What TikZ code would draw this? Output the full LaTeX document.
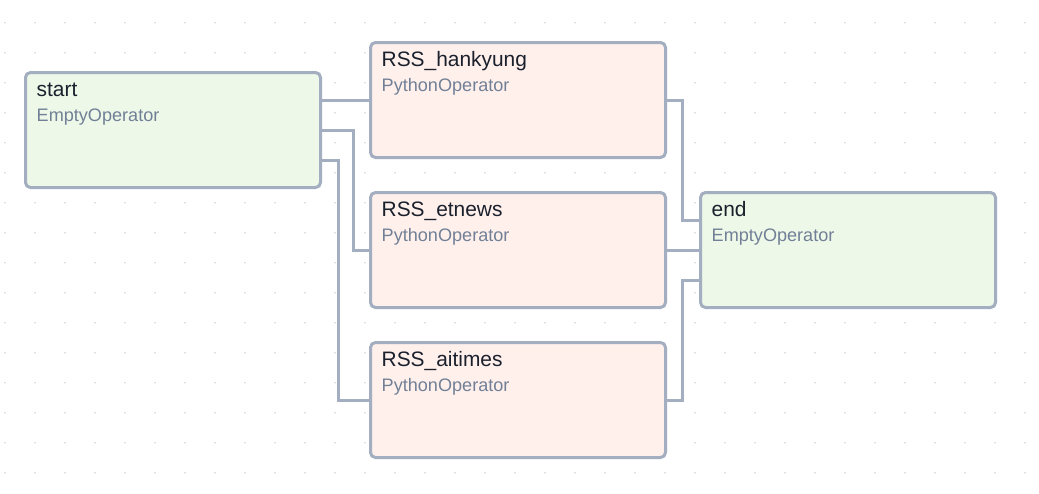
\documentclass[tikz,border=0pt]{standalone}
\usepackage{fontspec}
\setmainfont{Liberation Sans}
\definecolor{edgec}{HTML}{A3AEC0}
\definecolor{dotc}{HTML}{CDD3DC}
\definecolor{emptyfill}{HTML}{EDF8E9}
\definecolor{pyfill}{HTML}{FFF0EC}
\definecolor{titlec}{HTML}{1A202C}
\definecolor{subc}{HTML}{718096}
\tikzset{
  opbox/.style={draw=edgec, line width=3pt, rounded corners=5pt, minimum width=295pt, minimum height=115pt, inner sep=0pt, outer sep=0pt},
  emptyop/.style={opbox, fill=emptyfill},
  pyop/.style={opbox, fill=pyfill},
  ttl/.style={anchor=base west, inner sep=0pt, text=titlec, font=\fontsize{20.9}{24}\selectfont},
  sub/.style={anchor=base west, inner sep=0pt, text=subc, font=\fontsize{18.1}{21}\selectfont},
  conn/.style={draw=edgec, line width=3pt}
}
\begin{document}
\begin{tikzpicture}[x=1pt,y=-1pt]
\useasboundingbox[fill=white] (0,0) rectangle (1039,493);
\foreach \i in {0,...,34}{
  \foreach \j in {0,...,15}{
    \fill[dotc] (5+30*\i, 22.7+30*\j) circle (0.9pt);
  }
}
\node[emptyop] (start) at (173,130) {};
\node[pyop] (hank) at (518,100) {};
\node[pyop] (etnews) at (518,250) {};
\node[pyop] (aitimes) at (518,400) {};
\node[emptyop] (end) at (848,250) {};
\foreach \n/\t/\s in {start/start/EmptyOperator, hank/RSS\_hankyung/PythonOperator, etnews/RSS\_etnews/PythonOperator, aitimes/RSS\_aitimes/PythonOperator, end/end/EmptyOperator}{
  \node[ttl] (\n-t) at ([xshift=11pt,yshift=-23.8pt]\n.north west) {\t};
  \node[sub] (\n-s) at ([xshift=11pt,yshift=-48.6pt]\n.north west) {\s};
}
\draw[conn] (start.east |- hank.west) -- (hank.west);
\draw[conn] (start.east) -- ++(32.5,0) |- (etnews.west);
\draw[conn] ([yshift=-30pt]start.east) -- ++(18,0) |- (aitimes.west);
\draw[conn] (hank.east) -- ++(17,0) |- ([yshift=30pt]end.west);
\draw[conn] (etnews.east) -- (end.west);
\draw[conn] (aitimes.east) -- ++(17,0) |- ([yshift=-30pt]end.west);
\end{tikzpicture}
\end{document}
